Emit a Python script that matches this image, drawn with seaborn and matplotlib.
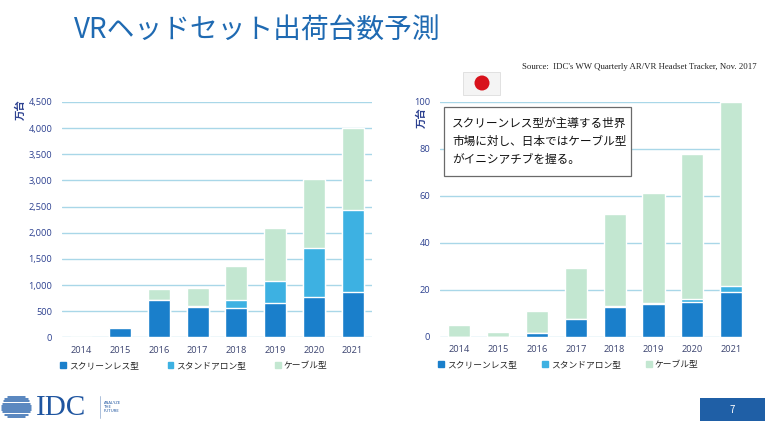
import matplotlib
matplotlib.use("Agg")
import matplotlib.pyplot as plt
import matplotlib.patches as mpatches
from matplotlib.lines import Line2D
import numpy as np
import pandas as pd
import seaborn as sns

# data (万台)
years = ["2014", "2015", "2016", "2017", "2018", "2019", "2020", "2021"]
ww_screenless = [8, 180, 710, 585, 565, 650, 765, 870]
ww_standalone = [0, 0, 10, 10, 150, 425, 950, 1560]
ww_cable = [0, 0, 200, 340, 655, 1010, 1320, 1570]
jp_screenless = [0, 0, 1.4, 7.4, 12.8, 13.8, 14.9, 19.1]
jp_standalone = [0, 0, 0, 0, 0.4, 0.7, 1.3, 2.5]
jp_cable = [5.0, 2.0, 9.7, 21.8, 39.1, 46.6, 61.6, 78.4]
series_names = ["スクリーンレス型", "スタンドアロン型", "ケーブル型"]
ww_ticks = [0, 500, 1000, 1500, 2000, 2500, 3000, 3500, 4000, 4500]
jp_ticks = [0, 20, 40, 60, 80, 100]
title = "VRヘッドセット出荷台数予測"
source = "Source:  IDC's WW Quarterly AR/VR Headset Tracker, Nov. 2017"
note_lines = ["スクリーンレス型が主導する世界", "市場に対し、日本ではケーブル型", "がイニシアチブを握る。"]

C_SCREEN = "#1a7fcb"
C_STAND = "#3db1e2"
C_CABLE = "#c3e7d1"
C_GRID = "#a9d7e8"
C_TICK = "#2d4190"
C_TITLE = "#1f6ab2"

sns.set_style("white")
plt.rcParams["font.family"] = ["Noto Sans CJK JP", "DejaVu Sans"]

W, H = 765, 421
fig = plt.figure(figsize=(W / 100, H / 100), dpi=100)


def px(x, y):
    return x / W, 1 - y / H


def draw_panel(rect, screen, stand, cable, ticks, ymax, xmax, fmt, colsp):
    ax = fig.add_axes(rect)
    df = pd.DataFrame({"year": years, "screen": screen, "stand": stand, "cable": cable})
    df["s2"] = df["screen"] + df["stand"]
    df["total"] = df["s2"] + df["cable"]
    # stacked look: draw cumulative heights back to front
    for col, c in [("total", C_CABLE), ("s2", C_STAND), ("screen", C_SCREEN)]:
        sns.barplot(data=df, x="year", y=col, color=c, saturation=1, width=0.57,
                    errorbar=None, ax=ax, order=years)
    ax.set_ylim(0, ymax)
    ax.set_xlim(-0.5, xmax)
    ax.set_yticks(ticks)
    ax.set_yticklabels([fmt(t) for t in ticks])
    ax.yaxis.grid(True, color=C_GRID, lw=1)
    ax.set_axisbelow(True)
    for s in ax.spines.values():
        s.set_visible(False)
    ax.tick_params(axis="both", length=0, labelsize=6.7)
    ax.tick_params(axis="y", pad=7, labelcolor=C_TICK)
    ax.tick_params(axis="x", pad=6, labelcolor="#3c4470")
    ax.set_xlabel("")
    ax.set_ylabel("")
    for lab in ax.get_xticklabels() + ax.get_yticklabels():
        lab.set_family(["Open Sans", "DejaVu Sans"])
    handles = [mpatches.Patch(color=c) for c in (C_SCREEN, C_STAND, C_CABLE)]
    ax.legend(handles, series_names, loc="upper left", bbox_to_anchor=(-0.005, -0.1),
              ncol=3, frameon=False, fontsize=6.3, handlelength=0.65, handleheight=0.65,
              handletextpad=0.35, columnspacing=colsp, borderaxespad=0, borderpad=0)
    return ax


ax1 = draw_panel([62 / W, (H - 337.3) / H, 310 / W, 235.3 / H],
                 ww_screenless, ww_standalone, ww_cable, ww_ticks, 4500, 7.5,
                 lambda t: f"{t:,}", 3.25)
ax2 = draw_panel([440 / W, (H - 336.7) / H, 302 / W, 235 / H],
                 jp_screenless, jp_standalone, jp_cable, jp_ticks, 100, 7.28,
                 lambda t: f"{t}", 2.85)

# unit labels
fig.text(*px(21, 110), "万台", rotation=90, ha="center", va="center",
         fontsize=7.5, color=C_TICK, fontweight="bold")
fig.text(*px(422, 118), "万台", rotation=90, ha="center", va="center",
         fontsize=7.5, color=C_TICK, fontweight="bold")

# title and source
fig.text(*px(74, 30), title, ha="left", va="center", fontsize=20, color=C_TITLE)
fig.text(*px(757, 67), source, ha="right", va="center", fontsize=6.3,
         family="Liberation Serif", color="#222222")

# note box in the Japan panel
x0, y0 = px(444, 176)
x1, y1 = px(631, 107)
fig.add_artist(mpatches.Rectangle((x0, y0), x1 - x0, y1 - y0, transform=fig.transFigure,
                                  facecolor="white", edgecolor="#6a6a6a", lw=0.9, zorder=5))
for i, line in enumerate(note_lines):
    fig.text(*px(452, 123 + i * 18.5), line, ha="left", va="center", fontsize=8.4,
             color="#111111", zorder=6)

# Japanese flag
fx0, fy0 = px(463, 95)
fx1, fy1 = px(500, 72)
fig.add_artist(mpatches.Rectangle((fx0, fy0), fx1 - fx0, fy1 - fy0, transform=fig.transFigure,
                                  facecolor="#f4f4f4", edgecolor="#dddddd", lw=0.6))
fig.add_artist(mpatches.Ellipse(px(482, 83), 15 / W, 15 / H, transform=fig.transFigure,
                                facecolor="#d8121b", edgecolor="none"))

# IDC logo
cx, cy, r = 17, 407, 11
for yy in np.arange(cy - r + 1, cy + r, 2.2):
    half = np.sqrt(max(r ** 2 - (yy - cy) ** 2, 0))
    xa, ya = px(cx - half - 4, yy)
    xb, _ = px(cx + half + 3, yy)
    fig.add_artist(Line2D([xa, xb], [ya, ya], transform=fig.transFigure,
                          color="#2a64ad", lw=1.1))
fig.text(*px(36, 408), "IDC", ha="left", va="center", fontsize=21,
         family="Liberation Serif", color="#1f55a0")
lx, ly0 = px(100, 396)
_, ly1 = px(100, 418)
fig.add_artist(Line2D([lx, lx], [ly0, ly1], transform=fig.transFigure, color="#9fb5d6", lw=0.6))
fig.text(*px(104, 407), "ANALYZE\nTHE\nFUTURE", ha="left", va="center", fontsize=3,
         color="#1f55a0", linespacing=1.1)

# page number
bx0, by0 = px(700, 421)
bx1, by1 = px(765, 398)
fig.add_artist(mpatches.Rectangle((bx0, by0), bx1 - bx0, by1 - by0, transform=fig.transFigure,
                                  facecolor="#1f5fa6", edgecolor="none"))
fig.text(*px(732, 410), "7", ha="center", va="center", fontsize=7, color="white")

fig.savefig("out.png", dpi=100)
